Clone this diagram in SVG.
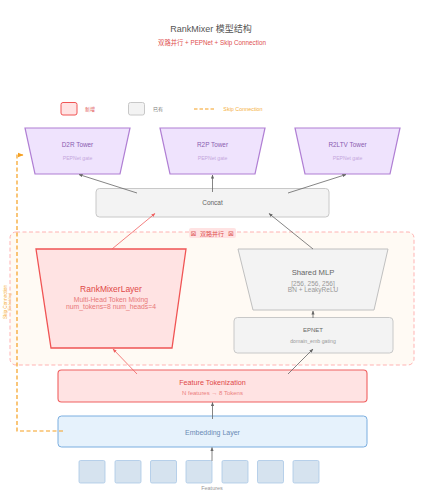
<svg xmlns="http://www.w3.org/2000/svg" width="422" height="500" viewBox="0 0 422 500">
<defs>
<marker id="ag" viewBox="0 0 10 10" refX="9" refY="5" markerWidth="5" markerHeight="5" orient="auto"><path d="M0,1 L10,5 L0,9 z" fill="#666"/></marker>
<marker id="ar" viewBox="0 0 10 10" refX="9" refY="5" markerWidth="5" markerHeight="5" orient="auto"><path d="M0,1 L10,5 L0,9 z" fill="#f06060"/></marker>
<marker id="ao" viewBox="0 0 10 10" refX="9" refY="5" markerWidth="5" markerHeight="5" orient="auto"><path d="M0,1 L10,5 L0,9 z" fill="#f5a020"/></marker>
</defs>
<style>
text{font-family:"Liberation Sans","Noto Sans CJK SC",sans-serif;text-anchor:middle}
.tower{fill:#efe3fd;stroke:#b07fd4;stroke-width:1.2}
.tt{font-size:6.4px;fill:#8a5cb0}
.ts{font-size:5.1px;fill:#c4a6dc}
.gray{fill:#f3f3f3;stroke:#c8c8c8;stroke-width:1}
.red{fill:#ffe3e3;stroke:#f05454;stroke-width:1.3}
.gl{stroke:#666;stroke-width:0.8;fill:none}
.rl{stroke:#f06060;stroke-width:0.8;fill:none}
.feat{fill:#d6e3ef;stroke:#aac8e6;stroke-width:0.8}
</style>
<rect width="422" height="500" fill="#fff"/>
<text x="211" y="32" style="font-size:9px;fill:#555">RankMixer 模型结构</text>
<text x="212" y="45" style="font-size:6.3px;fill:#e05050">双路并行 + PEPNet + Skip Connection</text>
<g id="legend">
<rect x="61" y="102.5" width="16" height="12.5" rx="2" fill="#ffe3e3" stroke="#f05454" stroke-width="1"/>
<text x="90" y="111" style="font-size:5px;fill:#e05050">新增</text>
<rect x="128.5" y="102.5" width="16" height="12.5" rx="2" fill="#f3f3f3" stroke="#c8c8c8" stroke-width="1"/>
<text x="158" y="111" style="font-size:5px;fill:#777">已有</text>
<line x1="194" y1="109" x2="215" y2="109" stroke="#f5a020" stroke-width="1.2" stroke-dasharray="3.5,2"/>
<text x="243" y="111" style="font-size:5.4px;fill:#f5b040">Skip Connection</text>
</g>
<g id="region">
<rect x="10" y="232" width="404" height="133" rx="6" fill="#fffaf4" stroke="#ffaaaa" stroke-width="0.9" stroke-dasharray="4,2.5"/>
<rect x="189" y="228" width="47" height="10" rx="2" fill="#ffe3e3"/>
<text x="212" y="235.5" style="font-size:6px;fill:#e05050">双路并行</text>
<text x="193.5" y="236" style="font-size:7px;fill:#e06060;font-family:'DejaVu Sans',sans-serif">⊠</text>
<text x="231" y="236" style="font-size:7px;fill:#e06060;font-family:'DejaVu Sans',sans-serif">⊠</text>
</g>
<g id="d2r"><polygon class="tower" points="25,128 130,128 120,174 35,174"/><text class="tt" x="77.5" y="147">D2R Tower</text><text class="ts" x="77.5" y="159.5">PEPNet gate</text></g>
<g id="r2p"><polygon class="tower" points="160,128 265,128 255,174 170,174"/><text class="tt" x="212.5" y="147">R2P Tower</text><text class="ts" x="212.5" y="159.5">PEPNet gate</text></g>
<g id="r2ltv"><polygon class="tower" points="295,128 400,128 390,174 305,174"/><text class="tt" x="347.5" y="147">R2LTV Tower</text><text class="ts" x="347.5" y="159.5">PEPNet gate</text></g>
<g id="concat"><rect class="gray" x="96" y="188.5" width="233" height="28.5" rx="3.5"/><text x="212.5" y="205" style="font-size:6.5px;fill:#666">Concat</text></g>
<g id="rankmixer"><polygon class="red" points="36,249 186,249 172,348 51,348"/><text x="111" y="292" style="font-size:8.5px;fill:#e04848">RankMixerLayer</text><text x="111" y="301.5" style="font-size:6.8px;fill:#e87878">Multi-Head Token Mixing</text><text x="111" y="308.5" style="font-size:6.8px;fill:#e87878">num_tokens=8  num_heads=4</text></g>
<g id="sharedmlp"><polygon points="238,249 388,249 374,310 253,310" fill="#f3f3f3" stroke="#c0c0c0" stroke-width="1"/><text x="313" y="275" style="font-size:7.7px;fill:#666">Shared MLP</text><text x="313" y="285.5" style="font-size:6.5px;fill:#999">[256, 256, 256]</text><text x="313" y="292" style="font-size:6.5px;fill:#999">BN + LeakyReLU</text></g>
<g id="epnet"><rect class="gray" x="234" y="317.5" width="159" height="35.5" rx="3.5"/><text x="313" y="332" style="font-size:6px;fill:#666">EPNET</text><text x="313" y="342.5" style="font-size:5.2px;fill:#999">domain_emb gating</text></g>
<g id="tokenization"><rect x="58" y="370" width="309" height="32" rx="3.5" fill="#ffe3e3" stroke="#f06060" stroke-width="1.1"/><text x="212.5" y="384.5" style="font-size:7.2px;fill:#e04848">Feature Tokenization</text><text x="212.5" y="394.5" style="font-size:6px;fill:#ec8080">N features → 8 Tokens</text></g>
<g id="embedding"><rect x="58" y="416" width="309" height="31" rx="3.5" fill="#e6f2fc" stroke="#7aaee0" stroke-width="1"/><text x="212.5" y="434.5" style="font-size:7px;fill:#6a8ab4">Embedding Layer</text></g>
<g id="features">
<rect class="feat" x="79" y="460.5" width="26" height="22.5" rx="1.5"/>
<rect class="feat" x="115" y="460.5" width="26" height="22.5" rx="1.5"/>
<rect class="feat" x="150.5" y="460.5" width="26" height="22.5" rx="1.5"/>
<rect class="feat" x="186" y="460.5" width="26" height="22.5" rx="1.5"/>
<rect class="feat" x="222" y="460.5" width="26" height="22.5" rx="1.5"/>
<rect class="feat" x="257.5" y="460.5" width="26" height="22.5" rx="1.5"/>
<rect class="feat" x="293" y="460.5" width="26" height="22.5" rx="1.5"/>
<text x="212" y="489.5" style="font-size:5.5px;fill:#999">Features</text>
</g>
<g id="connectors">
<line class="gl" x1="137" y1="193" x2="79" y2="174.5" marker-end="url(#ag)"/>
<line class="gl" x1="212.5" y1="192" x2="212.5" y2="175" marker-end="url(#ag)"/>
<line class="gl" x1="288" y1="193" x2="346" y2="174.5" marker-end="url(#ag)"/>
<line class="rl" x1="112" y1="249" x2="155" y2="213.5" marker-end="url(#ar)"/>
<line class="gl" x1="313" y1="249" x2="269" y2="213.5" marker-end="url(#ag)"/>
<line class="gl" x1="313" y1="318" x2="313" y2="311" marker-end="url(#ag)"/>
<line class="rl" x1="137" y1="374" x2="113" y2="349" marker-end="url(#ar)"/>
<line class="gl" x1="288" y1="374" x2="313" y2="349" marker-end="url(#ag)"/>
<line class="gl" x1="212.5" y1="419" x2="212.5" y2="402.5" marker-end="url(#ag)"/>
<line class="gl" x1="212" y1="461" x2="212" y2="447.5" marker-end="url(#ag)"/>
<polyline points="63,431 17,431 17,155 23,155" fill="none" stroke="#f5a020" stroke-width="1.2" stroke-dasharray="4,2.5" marker-end="url(#ao)"/>
<text x="0" y="0" transform="translate(6.5,302) rotate(-90)" style="font-size:4.7px;fill:#f5b040">Skip Connection</text>
<text x="0" y="0" transform="translate(10.5,302) rotate(-90)" style="font-size:3.2px;fill:#f5b040">(Embedding)</text>
</g>
</svg>
